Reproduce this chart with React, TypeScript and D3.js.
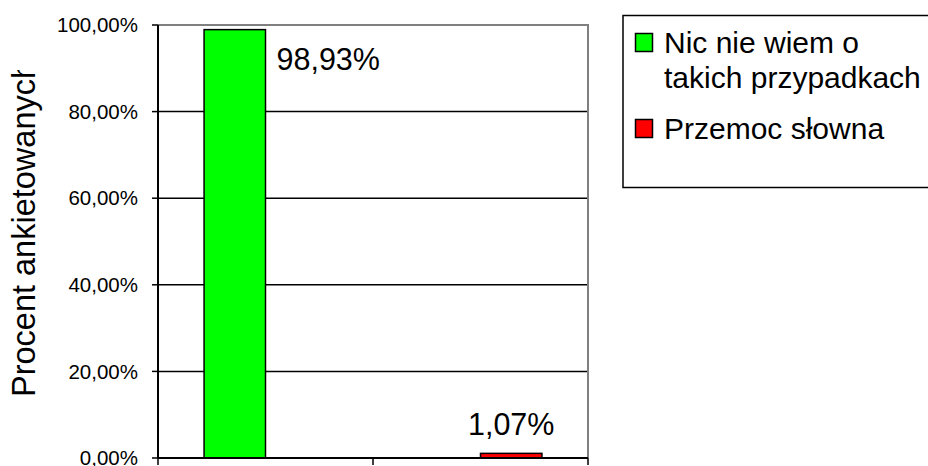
import React, { useEffect, useRef } from 'react';
import * as d3 from 'd3';

const categories = ['1', '2'];
const seriesNames = ['Nic nie wiem o takich przypadkach', 'Przemoc słowna'];
const legendLines = [['Nic nie wiem o', 'takich przypadkach'], ['Przemoc słowna']];
const nicNieWiem = [98.93, 0];
const przemocSlowna = [0, 1.07];
const seriesColors = ['#00ff00', '#ff0000'];
const yTicks = [0, 20, 40, 60, 80, 100];
const yTitle = 'Procent ankietowanych';

const FONT = '"Liberation Sans", Arial, sans-serif';

const plFormat = d3.formatLocale({ decimal: ',', thousands: ' ', grouping: [3], currency: ['', ' zł'] }).format('.2f');

const App: React.FC = () => {
  const chartRef = useRef<SVGSVGElement>(null);

  useEffect(() => {
    if (!chartRef.current) return;
    document.body.style.margin = '0';

    const svg = d3.select(chartRef.current);
    svg.selectAll('*').remove();

    const width = 928;
    const height = 466;
    const plot = { left: 158, right: 588, top: 25, bottom: 458 };

    const y = d3.scaleLinear().domain([0, 100]).range([plot.bottom, plot.top]);
    const x0 = d3.scaleBand().domain(categories).range([plot.left, plot.right]);
    const x1 = d3.scaleBand().domain(seriesNames).range([0, x0.bandwidth()]).paddingInner(0).paddingOuter(0.75);

    const values = [nicNieWiem, przemocSlowna];

    svg.append('rect').attr('width', width).attr('height', height).attr('fill', '#ffffff');

    // gridlines
    yTicks.filter(t => t > 0 && t < 100).forEach(t => {
      svg.append('line')
        .attr('x1', plot.left).attr('x2', plot.right)
        .attr('y1', y(t)).attr('y2', y(t))
        .attr('stroke', '#000').attr('stroke-width', 1.5);
    });

    // plot border (top, right)
    svg.append('path')
      .attr('d', `M${plot.left},${y(100)}H${plot.right}V${plot.bottom}`)
      .attr('stroke', '#808080').attr('stroke-width', 2).attr('fill', 'none');

    // bars
    seriesNames.forEach((name, si) => {
      categories.forEach((cat, ci) => {
        const v = values[si][ci];
        if (!v) return;
        const bx = x0(cat)! + x1(name)!;
        const bw = x1.bandwidth();
        svg.append('rect')
          .attr('x', bx).attr('y', y(v))
          .attr('width', bw).attr('height', y(0) - y(v))
          .attr('fill', seriesColors[si])
          .attr('stroke', '#000').attr('stroke-width', 1.5);

        const label = plFormat(v) + '%';
        const above = y(v) - 18;
        if (above - 24 < plot.top) {
          svg.append('text')
            .attr('x', bx + bw + 11).attr('y', y(v) + 40)
            .attr('font-family', FONT).attr('font-size', 30.5)
            .text(label);
        } else {
          svg.append('text')
            .attr('x', bx + bw / 2).attr('y', above)
            .attr('text-anchor', 'middle')
            .attr('font-family', FONT).attr('font-size', 30.5)
            .text(label);
        }
      });
    });

    // y axis
    svg.append('line')
      .attr('x1', plot.left).attr('x2', plot.left)
      .attr('y1', plot.top).attr('y2', plot.bottom)
      .attr('stroke', '#000').attr('stroke-width', 2);
    yTicks.forEach(t => {
      svg.append('line')
        .attr('x1', plot.left - 6).attr('x2', plot.left)
        .attr('y1', y(t)).attr('y2', y(t))
        .attr('stroke', '#000').attr('stroke-width', 1.5);
      svg.append('text')
        .attr('x', plot.left - 20).attr('y', y(t))
        .attr('dy', '0.35em')
        .attr('text-anchor', 'end')
        .attr('font-family', FONT).attr('font-size', 20.5)
        .text(plFormat(t) + '%');
    });

    // x axis
    svg.append('line')
      .attr('x1', plot.left).attr('x2', plot.right)
      .attr('y1', plot.bottom).attr('y2', plot.bottom)
      .attr('stroke', '#000').attr('stroke-width', 2);
    [...categories.map(c => x0(c)!), plot.right].forEach(tx => {
      svg.append('line')
        .attr('x1', tx).attr('x2', tx)
        .attr('y1', plot.bottom).attr('y2', plot.bottom + 7)
        .attr('stroke', '#000').attr('stroke-width', 1.5);
    });

    // y title, clipped at the top like the original
    svg.append('defs').append('clipPath').attr('id', 'ytitle-clip')
      .append('rect').attr('x', 0).attr('y', 70).attr('width', 60).attr('height', 400);
    svg.append('g')
      .attr('clip-path', 'url(#ytitle-clip)')
      .append('text')
      .attr('transform', `translate(35,397) rotate(-90)`)
      .attr('font-family', FONT).attr('font-size', 32.5)
      .text(yTitle);

    // legend
    const lg = svg.append('g');
    lg.append('rect')
      .attr('x', 623).attr('y', 15.5)
      .attr('width', 340).attr('height', 172)
      .attr('fill', '#fff').attr('stroke', '#000').attr('stroke-width', 1.5);
    const itemBaselines = [53, 139];
    seriesNames.forEach((_, i) => {
      const base = itemBaselines[i];
      lg.append('rect')
        .attr('x', 635.5).attr('y', base - 19.5)
        .attr('width', 17).attr('height', 18)
        .attr('fill', seriesColors[i])
        .attr('stroke', '#000').attr('stroke-width', 1.5);
      legendLines[i].forEach((line, li) => {
        lg.append('text')
          .attr('x', 664).attr('y', base + li * 35)
          .attr('font-family', FONT).attr('font-size', 30)
          .text(line);
      });
    });
  }, []);

  return (
    <svg
      ref={chartRef}
      width={928}
      height={466}
      style={{ position: 'fixed', left: 0, top: 0, display: 'block' }}
    ></svg>
  );
};

export default App;
